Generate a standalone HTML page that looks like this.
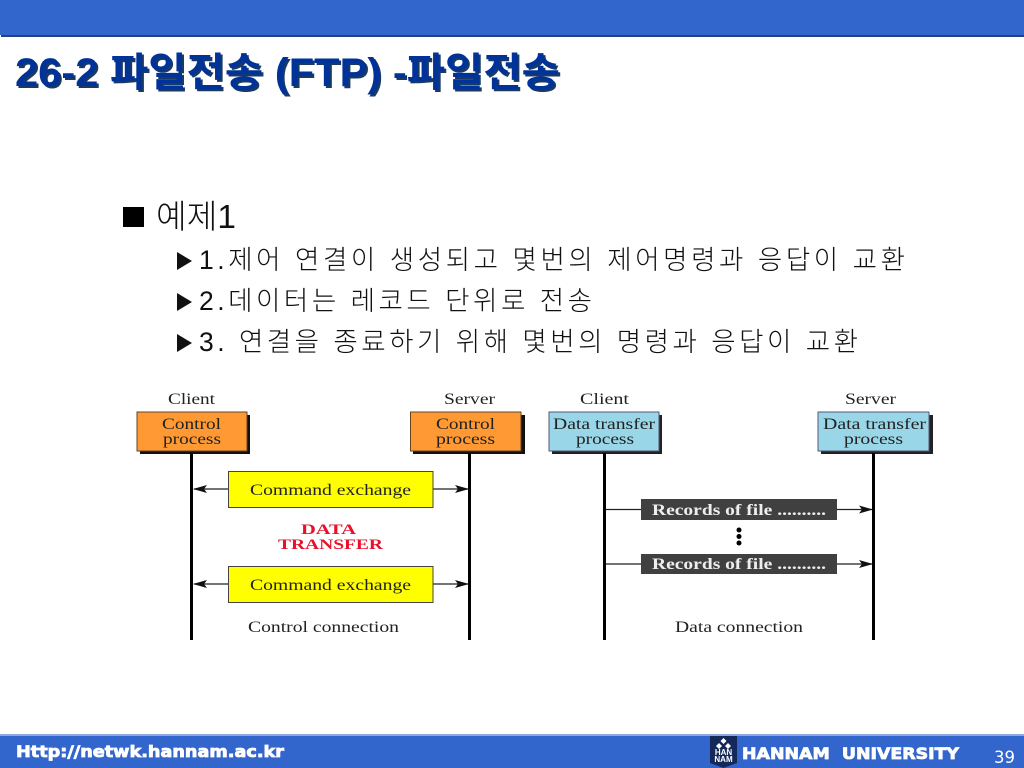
<!DOCTYPE html>
<html><head><meta charset="utf-8"><title>FTP</title>
<style>
html,body{margin:0;padding:0;background:#fff;width:1024px;height:768px;overflow:hidden}
svg{display:block}
.k{font-family:"Liberation Sans","Noto Sans CJK KR",sans-serif;font-weight:300;fill:#111}
.s{font-family:"Liberation Serif",serif;fill:#222;font-size:15.5px}
.t{font-family:"Liberation Sans","Noto Sans CJK KR",sans-serif;font-weight:700;font-size:40px}
</style></head><body>
<svg width="1024" height="768" viewBox="0 0 1024 768" xmlns="http://www.w3.org/2000/svg">
<defs>
<marker id="a" markerWidth="14" markerHeight="8" refX="13" refY="4" orient="auto" markerUnits="userSpaceOnUse"><path d="M0 0L14 4L0 8L3 4Z" fill="#111"/></marker>
</defs>
<!-- header -->
<rect x="0" y="0" width="1024" height="35" fill="#3366cc"/>
<rect x="1" y="35" width="1023" height="2" fill="#24427f"/>
<!-- title -->
<text class="t" x="17" y="88" fill="#1a3a5f" textLength="545" lengthAdjust="spacingAndGlyphs">26-2 파일전송 (FTP) -파일전송</text>
<text class="t" x="15" y="86" fill="#003399" textLength="545" lengthAdjust="spacingAndGlyphs">26-2 파일전송 (FTP) -파일전송</text>
<!-- bullets -->
<rect x="123" y="207" width="21" height="20" fill="#000"/>
<text class="k" x="156" y="228" font-size="33" textLength="80" lengthAdjust="spacingAndGlyphs">예제1</text>
<path d="M177 252L192 261L177 270Z" fill="#111"/>
<text class="k" x="199" y="269" font-size="26.500" textLength="706" lengthAdjust="spacing">1.제어 연결이 생성되고 몇번의 제어명령과 응답이 교환</text>
<path d="M177 293L192 302L177 311Z" fill="#111"/>
<text class="k" x="199" y="310" font-size="26.500" textLength="393" lengthAdjust="spacing">2.데이터는 레코드 단위로 전송</text>
<path d="M177 334L192 343L177 352Z" fill="#111"/>
<text class="k" x="199" y="351" font-size="26.500" textLength="659" lengthAdjust="spacing">3. 연결을 종료하기 위해 몇번의 명령과 응답이 교환</text>
<!-- left diagram -->
<g>
<text class="s" x="168" y="404" textLength="47" lengthAdjust="spacingAndGlyphs">Client</text>
<text class="s" x="444" y="404" textLength="51" lengthAdjust="spacingAndGlyphs">Server</text>
<rect x="140" y="415" width="110" height="39" fill="#111"/>
<rect x="137" y="412" width="110" height="39" fill="#ff9933" stroke="#664422" stroke-width="1"/>
<text class="s" x="162" y="429" textLength="59" lengthAdjust="spacingAndGlyphs">Control</text>
<text class="s" x="163" y="444" textLength="58" lengthAdjust="spacingAndGlyphs">process</text>
<rect x="413" y="415" width="112" height="39" fill="#111"/>
<rect x="410.500" y="412" width="110.500" height="39" fill="#ff9933" stroke="#664422" stroke-width="1"/>
<text class="s" x="436" y="429" textLength="59" lengthAdjust="spacingAndGlyphs">Control</text>
<text class="s" x="436" y="444" textLength="59" lengthAdjust="spacingAndGlyphs">process</text>
<rect x="190" y="453" width="3" height="187" fill="#000"/>
<rect x="468" y="453" width="3" height="187" fill="#000"/>
<line x1="228" y1="489" x2="194" y2="489" stroke="#222" stroke-width="1.200" marker-end="url(#a)"/>
<line x1="433" y1="489" x2="468" y2="489" stroke="#222" stroke-width="1.200" marker-end="url(#a)"/>
<line x1="228" y1="584" x2="194" y2="584" stroke="#222" stroke-width="1.200" marker-end="url(#a)"/>
<line x1="433" y1="584" x2="468" y2="584" stroke="#222" stroke-width="1.200" marker-end="url(#a)"/>
<rect x="228.500" y="471.500" width="204.500" height="36" fill="#ffff00" stroke="#444" stroke-width="1"/>
<text class="s" x="250" y="495" textLength="161" lengthAdjust="spacingAndGlyphs">Command exchange</text>
<rect x="228.500" y="566.500" width="204.500" height="36" fill="#ffff00" stroke="#444" stroke-width="1"/>
<text class="s" x="250" y="590" textLength="161" lengthAdjust="spacingAndGlyphs">Command exchange</text>
<text x="301" y="534" font-family="Liberation Serif,serif" font-weight="700" font-size="15" fill="#e8102a" textLength="55" lengthAdjust="spacingAndGlyphs">DATA</text>
<text x="278" y="549" font-family="Liberation Serif,serif" font-weight="700" font-size="15" fill="#e8102a" textLength="105" lengthAdjust="spacingAndGlyphs">TRANSFER</text>
<text class="s" x="248" y="632" textLength="151" lengthAdjust="spacingAndGlyphs">Control connection</text>
</g>
<!-- right diagram -->
<g>
<text class="s" x="580" y="404" textLength="49" lengthAdjust="spacingAndGlyphs">Client</text>
<text class="s" x="845" y="404" textLength="51" lengthAdjust="spacingAndGlyphs">Server</text>
<rect x="552" y="415" width="110" height="39" fill="#222"/>
<rect x="549" y="412" width="110" height="39" fill="#99d6e8" stroke="#557" stroke-width="1"/>
<text class="s" x="553" y="429" fill="#123" textLength="102" lengthAdjust="spacingAndGlyphs">Data transfer</text>
<text class="s" x="576" y="444" textLength="58" lengthAdjust="spacingAndGlyphs">process</text>
<rect x="821" y="415" width="112" height="39" fill="#222"/>
<rect x="818" y="412" width="111" height="39" fill="#99d6e8" stroke="#557" stroke-width="1"/>
<text class="s" x="823" y="429" textLength="103" lengthAdjust="spacingAndGlyphs">Data transfer</text>
<text class="s" x="844" y="444" textLength="59" lengthAdjust="spacingAndGlyphs">process</text>
<rect x="603" y="453" width="3" height="187" fill="#000"/>
<rect x="872" y="453" width="3" height="187" fill="#000"/>
<line x1="606" y1="509.500" x2="641" y2="509.500" stroke="#222" stroke-width="1.200"/>
<line x1="606" y1="564" x2="641" y2="564" stroke="#222" stroke-width="1.200"/>
<line x1="837" y1="509.500" x2="872" y2="509.500" stroke="#222" stroke-width="1.200" marker-end="url(#a)"/>
<line x1="837" y1="564" x2="872" y2="564" stroke="#222" stroke-width="1.200" marker-end="url(#a)"/>
<rect x="641" y="499" width="196" height="21" fill="#404040"/>
<rect x="641" y="554" width="196" height="20" fill="#404040"/>
<text x="652" y="515" font-family="Liberation Serif,serif" font-weight="700" font-size="15.500" fill="#eee" textLength="174" lengthAdjust="spacingAndGlyphs">Records of file ..........</text>
<text x="652" y="569" font-family="Liberation Serif,serif" font-weight="700" font-size="15.500" fill="#eee" textLength="174" lengthAdjust="spacingAndGlyphs">Records of file ..........</text>
<circle cx="739" cy="530" r="2.500" fill="#000"/>
<circle cx="739" cy="536.500" r="2.500" fill="#000"/>
<circle cx="739" cy="543" r="2.500" fill="#000"/>
<text class="s" x="675" y="632" textLength="128" lengthAdjust="spacingAndGlyphs">Data connection</text>
</g>
<!-- footer -->
<rect x="0" y="734" width="1024" height="2" fill="#8fa8dc"/>
<rect x="0" y="736" width="1024" height="32" fill="#3366cc"/>
<text x="16" y="757" font-family="DejaVu Sans,sans-serif" font-weight="700" font-size="16" fill="#fff" stroke="#fff" stroke-width=".8" textLength="268" lengthAdjust="spacingAndGlyphs">Http://netwk.hannam.ac.kr</text>
<path d="M710 736H737V763L723.500 768L710 763Z" fill="#14285a"/>
<path d="M723.500 738l3 3l-3 3l-3-3zM719 743l3 3l-3 3l-3-3zM728 743l3 3l-3 3l-3-3z" fill="#fff"/>
<text x="723.500" y="755" text-anchor="middle" font-family="Liberation Sans,sans-serif" font-weight="700" font-size="8" fill="#fff">HAN</text>
<text x="723.500" y="762" text-anchor="middle" font-family="Liberation Sans,sans-serif" font-weight="700" font-size="8" fill="#fff">NAM</text>
<text x="742" y="759" font-family="DejaVu Sans,sans-serif" font-weight="700" font-size="16" fill="#fff" stroke="#fff" stroke-width=".8" textLength="217" lengthAdjust="spacingAndGlyphs" xml:space="preserve">HANNAM  UNIVERSITY</text>
<text x="994" y="763" font-family="DejaVu Sans,sans-serif" font-size="16.500" fill="#fff" textLength="21" lengthAdjust="spacingAndGlyphs">39</text>
</svg>
</body></html>
